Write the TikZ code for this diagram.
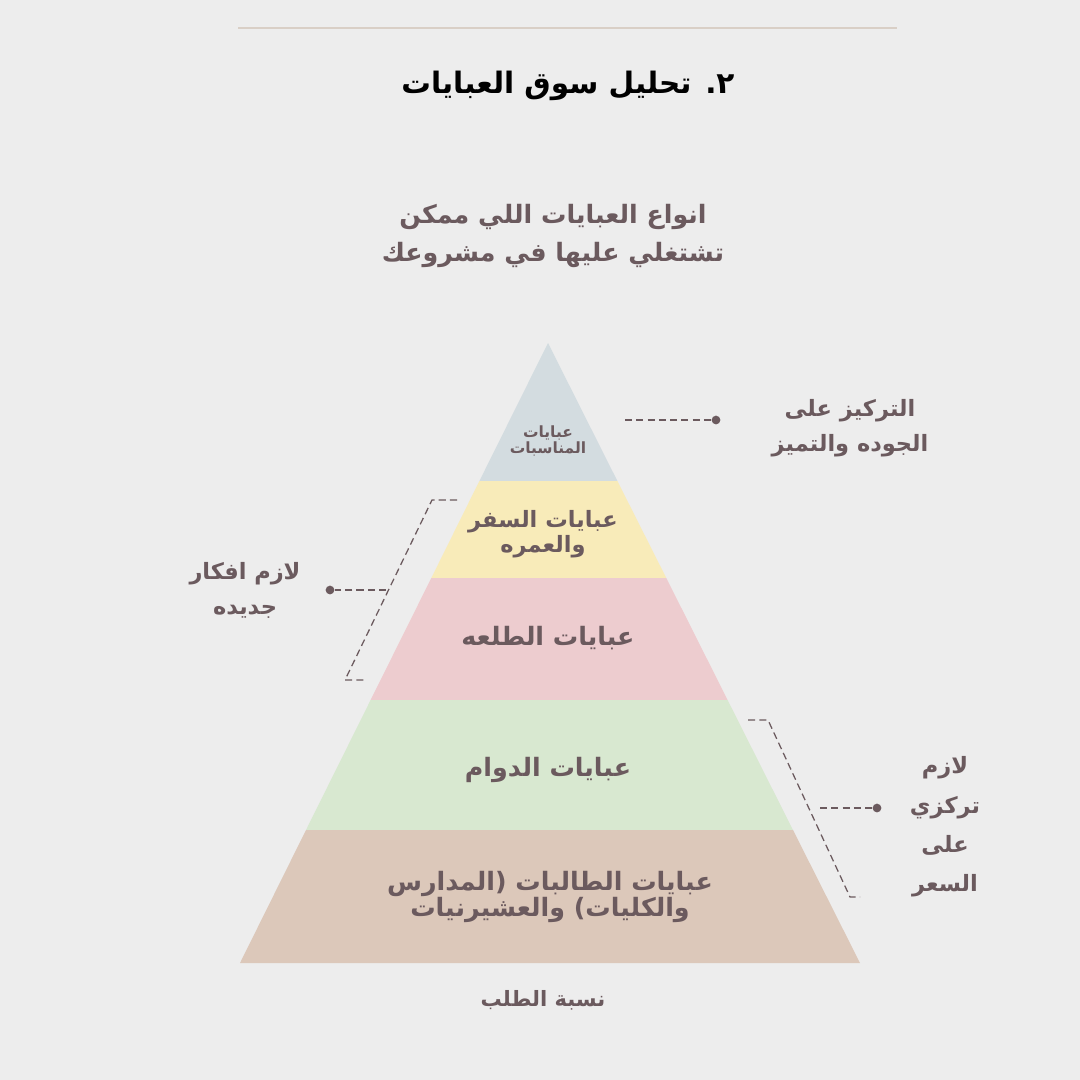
\documentclass[tikz,border=0pt]{standalone}
\usepackage{fontspec}
\newfontfamily\arabicfont[Script=Arabic]{DejaVu Sans}
\TeXXeTstate=1
\definecolor{bg}{HTML}{EDEDED}
\definecolor{ink}{HTML}{6B5A5E}
\definecolor{rule}{HTML}{D9CFC6}
\definecolor{topc}{HTML}{D3DCE0}
\definecolor{yelc}{HTML}{F8EBB9}
\definecolor{pinc}{HTML}{EDCCCF}
\definecolor{grnc}{HTML}{D8E8D0}
\definecolor{tanc}{HTML}{DCC8BA}
\tikzstyle{lab}=[text=ink,font=\arabicfont\fontsize{16}{22}\selectfont,align=center]
\tikzstyle{lay}=[text=ink,font=\arabicfont\bfseries\fontsize{18}{20}\selectfont,align=center]
\tikzstyle{dsh}=[ink,dashed,dash pattern=on 5pt off 3pt,line width=0.9pt]
\tikzstyle{dot}=[circle,fill=ink,inner sep=2.2pt]

\begin{document}
\begin{tikzpicture}[x=0.025cm,y=-0.025cm]
\fill[bg] (0,0) rectangle (1080,1080);
\useasboundingbox (0,0) rectangle (1080,1080);
\draw[rule,line width=0.8pt] (238,28)--(897,28);

\node (title) at (568,86) [font=\arabicfont\bfseries\fontsize{21}{24}\selectfont] {\beginR ٢. تحليل سوق العبايات\endR};
\node (sub) at (553,236) [lab,font=\arabicfont\bfseries\fontsize{18}{27}\selectfont] {\beginR انواع العبايات اللي ممكن\endR\\ \beginR تشتغلي عليها في مشروعك\endR};

% layers
\fill[topc] (548,343)--(617.4,481)--(479.4,481)--cycle;
\fill[yelc] (479.4,481)--(617.4,481)--(666.3,578)--(431.3,578)--cycle;
\fill[pinc] (431.3,578)--(666.3,578)--(727.6,700)--(370.6,700)--cycle;
\fill[grnc] (370.6,700)--(727.6,700)--(793,830)--(306,830)--cycle;
\fill[tanc] (306,830)--(793,830)--(860,963)--(240,963)--cycle;

\node (l1) at (548,441) [lay,font=\arabicfont\bfseries\fontsize{11}{12}\selectfont] {\beginR عبايات\endR\\ \beginR المناسبات\endR};
\node (l2) at (543,534) [lay,font=\arabicfont\bfseries\fontsize{16}{18}\selectfont] {\beginR عبايات السفر\endR\\ \beginR والعمره\endR};
\node (l3) at (548,638) [lay] {\beginR عبايات الطلعه\endR};
\node (l4) at (548,770) [lay] {\beginR عبايات الدوام\endR};
\node (l5) at (550,897) [lay,font=\arabicfont\bfseries\fontsize{18}{19}\selectfont] {\beginR عبايات الطالبات (المدارس\endR\\ \beginR والكليات) والعشيرنيات\endR};
\node (base) at (543,1000) [lab,font=\arabicfont\bfseries\fontsize{15}{18}\selectfont] {\beginR نسبة الطلب\endR};

% top note
\node (d1) at (716,420) [dot] {};
\coordinate (c1) at (625,420);
\draw[dsh] (c1)--(d1);
\node (n1) at (850,428) [lab,font=\arabicfont\bfseries\fontsize{16}{25}\selectfont] {\beginR التركيز على\endR\\ \beginR الجوده والتميز\endR};

% left note
\coordinate (b1) at (457,500);
\coordinate (b2) at (432,500);
\coordinate (b3) at (345,680);
\coordinate (b4) at (366,680);
\draw[dsh] (b1)--(b2)--(b3)--(b4);
\node (d2) at (330,590) [dot] {};
\coordinate (c2) at (386,590);
\draw[dsh] (c2)--(d2);
\node (n2) at (245,590) [lab,font=\arabicfont\bfseries\fontsize{16}{25}\selectfont] {\beginR لازم افكار\endR\\ \beginR جديده\endR};

% right note
\coordinate (r1) at (748,720);
\coordinate (r2) at (768,720);
\coordinate (r3) at (850,897);
\coordinate (r4) at (860,897);
\draw[dsh] (r1)--(r2)--(r3)--(r4);
\node (d3) at (877,808) [dot] {};
\coordinate (c3) at (820,808);
\draw[dsh] (c3)--(d3);
\node (n3) at (945,827) [lab,font=\arabicfont\bfseries\fontsize{16}{28}\selectfont] {\beginR لازم\endR\\ \beginR تركزي\endR\\ \beginR على\endR\\ \beginR السعر\endR};
\end{tikzpicture}
\end{document}
